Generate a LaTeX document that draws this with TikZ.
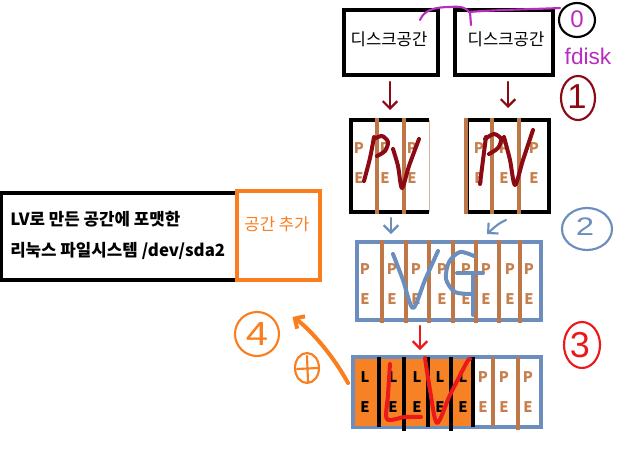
\documentclass[tikz,border=0pt]{standalone}
\usepackage{fontspec}
\setmainfont{Liberation Sans}
\newfontfamily\kr{Noto Sans CJK KR}
\usetikzlibrary{arrows.meta,calc}
\definecolor{brn}{RGB}{190,120,72}
\definecolor{petxt}{RGB}{198,128,78}
\definecolor{blu}{RGB}{108,142,191}
\definecolor{orgf}{RGB}{247,130,37}
\definecolor{orgl}{RGB}{250,125,30}
\definecolor{drd}{RGB}{140,10,20}
\definecolor{rd}{RGB}{235,25,25}
\definecolor{mag}{RGB}{185,45,190}
\tikzset{
  frame/.style={draw=black,line width=2.6pt,inner sep=0pt,outer sep=0pt},
  bframe/.style={draw=blu,line width=2.6pt,inner sep=0pt,outer sep=0pt},
  bline/.style={draw=brn,line width=2.6pt},
  kline/.style={draw=black,line width=2.6pt},
  pe/.style={font=\kr\bfseries\fontsize{11}{11}\selectfont,text=petxt,inner sep=0pt},
  le/.style={font=\kr\bfseries\fontsize{11}{11}\selectfont,text=black,inner sep=0pt},
  hand/.style={line width=3pt,line cap=round,line join=round},
  thin/.style={line width=1.6pt,line cap=round,line join=round},
  tip/.style={-{Straight Barb[length=5.5pt,width=11pt]}},
  digit/.style={font=\fontsize{#1}{#1}\selectfont,inner sep=0pt},
  ktxt/.style={font=\kr\fontsize{12.5}{12.5}\selectfont,inner sep=0pt}
}
\begin{document}
\begin{tikzpicture}[x=0.75pt,y=-0.75pt]
\useasboundingbox (0,0) rectangle (640,468);

% --- disk spaces ---
\node[frame,minimum width={94*0.75pt},minimum height={65*0.75pt}] (d1) at (391,42.5) {};
\node[ktxt] (d1t) at (389,39) {디스크공간};
\node[frame,minimum width={98*0.75pt},minimum height={65*0.75pt}] (d2) at (504,42.5) {};
\node[ktxt] (d2t) at (506,39) {디스크공간};

% --- PV 1 ---
\node[inner sep=0pt,outer sep=0pt,minimum width={78*0.75pt},minimum height={92*0.75pt}] (pv1) at (390,166) {};
\draw[brn!55,line width=0.6pt] (429,120) -- (429,212);
\draw[black,line width=2.6pt] (429,120) -- (351,120) -- (351,212) -- (429,212);
\foreach \x [count=\i] in {359,385,412}{
  \node[pe] (pvaP\i) at (\x,148) {P};
  \node[pe] (pvaE\i) at (\x,178) {E};
}
\foreach \x in {377,404} \draw[bline] (\x,118) -- (\x,214);

% --- PV 2 ---
\node[frame,minimum width={82*0.75pt},minimum height={92*0.75pt}] (pv2) at (508,166) {};
\foreach \x [count=\i] in {479,504,534}{
  \node[pe] (pvbP\i) at (\x,148) {P};
  \node[pe] (pvbE\i) at (\x,178) {E};
}
\foreach \x in {466,492,519} \draw[bline] (\x,118) -- (\x,214);

% --- VG ---
\node[bframe,minimum width={184*0.75pt},minimum height={78*0.75pt}] (vg) at (449,281) {};
\foreach \x [count=\i] in {365,392,416,442,466,486,510,529}{
  \node[pe] (vgP\i) at (\x,269) {P};
  \node[pe] (vgE\i) at (\x,299) {E};
}
\foreach \x in {382,406,429,453,476,499,520} \draw[bline] (\x,240) -- (\x,323);

% --- LV ---
\node[bframe,minimum width={188*0.75pt},minimum height={70*0.75pt}] (lv) at (447,392) {};
\fill[orgf] (354.5,358.5) rectangle (473,425.5);
\foreach \x [count=\i] in {365,393,417,440,463}{
  \node[le] (lvL\i) at (\x,377) {L};
  \node[le] (lvE\i) at (\x,407) {E};
}
\foreach \x [count=\i] in {483,504,528}{
  \node[pe] (lvP\i) at (\x,377) {P};
  \node[pe] (lvF\i) at (\x,407) {E};
}
\foreach \x/\b in {379/427,404/431,428/427,451/431,473/427} \draw[kline] (\x,357) -- (\x,\b);
\foreach \x/\b in {493/426,518/430} \draw[bline] (\x,357) -- (\x,\b);

% --- file system box ---
\node[frame,minimum width={236*0.75pt},minimum height={87*0.75pt}] (fs) at (119,236.5) {};
\node[font=\kr\bfseries\fontsize{12.6}{23.25}\selectfont,align=left,anchor=west,inner sep=0pt] (fst) at (10,235)
  {LV로 만든 공간에 포맷한\\리눅스 파일시스템\hspace{3pt}/dev/sda2};
\node[draw=orgl,line width=2.6pt,inner sep=0pt,outer sep=0pt,minimum width={83*0.75pt},minimum height={89*0.75pt}] (add) at (278.5,235.5) {};
\node[font=\kr\fontsize{12.5}{12.5}\selectfont,text=orgl,inner sep=0pt] (addt) at (277,224) {공간 추가};

% --- hand-drawn labels ---
\draw[hand,drd] plot[smooth] coordinates {(374,137) (370,158) (364,181)};
\draw[hand,drd] plot[smooth] coordinates {(374,139) (382,136) (388,142) (385,151) (377,156)};
\draw[hand,drd] plot[smooth] coordinates {(393,149) (398,166) (402,188) (409,166) (419,139)};
\draw[hand,drd] plot[smooth] coordinates {(486,137) (483,160) (480,184)};
\draw[hand,drd] plot[smooth] coordinates {(485,139) (494,134) (501,139) (498,148) (489,154)};
\draw[hand,drd] plot[smooth] coordinates {(504,137) (510,160) (515,185) (523,160) (533,130)};

\draw[hand,blu] plot[smooth] coordinates {(393,254) (403,280) (413,308) (425,280) (438,251)};
\draw[hand,blu] plot[smooth] coordinates {(474,256) (460,252) (449,262) (446,279) (455,292) (472,294)};
\draw[hand,blu] (457,273) -- (483,273);
\draw[hand,blu] (473,273) -- (473,315);

\draw[hand,rd] plot[smooth] coordinates {(390,364) (388,395) (387,419) (405,417) (421,417)};
\draw[hand,rd] plot[smooth] coordinates {(425,358) (430,390) (437,423) (450,395) (467,362) (470,359)};

% --- numbered circles ---
\draw[thin,black] (577,20) ellipse [x radius=18,y radius=17];
\node[digit=18,text=mag] (c0) at (577,19) {0};
\node[digit=17,text=mag] (fdisk) at (588,56) {fdisk};
\draw[thin,drd] (578,98) ellipse [x radius=17,y radius=22];
\node[digit=26,text=drd] (c1) at (577,97) {1};
\draw[thin,blu] (587,229) ellipse [x radius=25,y radius=21];
\node[digit=19,text=blu,xscale=1.3] (c2) at (585,227) {2};
\draw[thin,rd] (582,345) ellipse [x radius=18,y radius=23];
\node[digit=27,text=rd] (c3) at (580,345) {3};
\draw[thin,orgl] (257,334) ellipse [x radius=22,y radius=22];
\node[digit=25,text=orgl,xscale=1.2] (c4) at (257,334) {4};

% --- plus sign ---
\draw[thin,orgl] (307,368) ellipse [x radius=12,y radius=15];
\draw[thin,orgl] (297,369) -- (318,368) (307,356) -- (308,382);

% --- arrows ---
\draw[thin,drd,tip] ($(d1.south)+(-1,7)$) -- ($(pv1.north)+(0,-10)$);
\draw[thin,drd,tip] ($(d2.south)+(4,7)$) -- ($(pv2.north)+(0,-12)$);
\draw[thin,blu,tip] ($(pv1.south)+(1,6)$) -- ($(vg.north west)+(34,-8)$);
\draw[thin,blu,tip] ($(pv2.south)+(-2,8)$) .. controls ($(pv2.south)+(-10,12)$) .. ($(vg.north west)+(130,-8)$);
\draw[thin,rd,tip] ($(vg.south west)+(63,6)$) -- ($(lv.north west)+(67,-7)$);
\draw[hand,orgl,tip] ($(lv.west)+(-5,-9)$) .. controls (330,350) and (305,325) .. ($(add.south)+(14,37)$);

% --- fdisk line ---
\draw[thin,mag] ($(d1.north east)+(-18,10)$) .. controls (424,10) and (435,7) .. (450,7)
  .. controls (462,6) and (466,8) .. (469,12) .. controls (490,10) and (540,9) .. ($(c0.west)+(-10,-11)$);
\draw[thin,mag] ($(d2.north west)+(15,2)$) -- ($(d2.north west)+(16,15)$);
\end{tikzpicture}
\end{document}
